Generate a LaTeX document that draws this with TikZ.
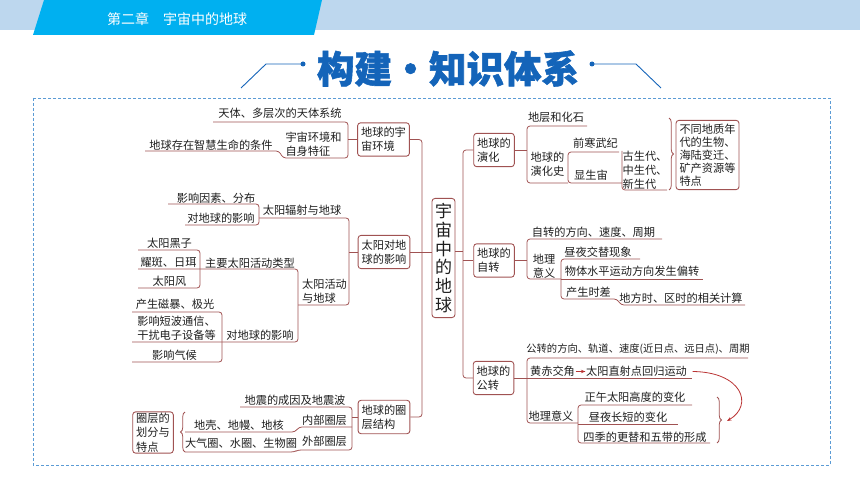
\documentclass[tikz,border=0pt]{standalone}
\usepackage{fontspec}
\setmainfont{Noto Sans CJK SC}
\usetikzlibrary{decorations.pathreplacing,arrows.meta}

\definecolor{linkc}{RGB}{160,82,82}
\definecolor{bandc}{RGB}{189,215,238}
\definecolor{tabc}{RGB}{0,176,240}
\definecolor{titlec}{RGB}{20,100,185}
\definecolor{framec}{RGB}{91,155,213}
\definecolor{arrowc}{RGB}{185,50,50}
\definecolor{textc}{RGB}{30,30,30}

\tikzstyle{box}=[draw=linkc, line width=0.9pt, rounded corners=3pt, inner xsep=3.5pt, inner ysep=4.5pt, align=left, font=\fontsize{11.2}{14}\selectfont, text=textc]
\tikzstyle{leaf}=[inner sep=0.5pt, align=left, font=\fontsize{11.2}{14}\selectfont, text=textc]
\tikzstyle{link}=[draw=linkc, line width=0.8pt, rounded corners=3pt]
\tikzstyle{curly}=[draw=linkc, line width=0.8pt, decorate, decoration={brace, amplitude=4.5pt}]
\tikzstyle{arr}=[draw=arrowc, line width=0.8pt, -{Stealth[length=4.5pt,width=3.5pt]}]

\begin{document}
\begin{tikzpicture}[x=1pt, y=-1pt]
\useasboundingbox (0,0) rectangle (860,484);
% header
\fill[bandc] (0,0) rectangle (860,30);
\fill[tabc] (33,35) -- (44,0) -- (322,0) -- (314,35) -- cycle;
\node[text=white, font=\fontsize{14}{16}\selectfont] (chap) at (177,19.5) {第二章\quad 宇宙中的地球};
% title
\node[text=titlec, font=\fontsize{37.5}{40}\selectfont\bfseries\addfontfeatures{FakeBold=1.5}] (title) at (448,68.5) {构建\makebox[37pt]{·}知识体系};
\draw[titlec, line width=0.9pt] (241,88) -- (266,64) -- (301,64);
\draw[titlec, line width=0.9pt] (592,64) -- (636,64) -- (661,88);
\fill[titlec] (303,64) circle (2.5) (592,64) circle (2.5);
\draw[framec, line width=0.8pt, dash pattern=on 3pt off 2pt] (33,98) rectangle (830,465);

% boxes
\node[box, align=center, font=\fontsize{17}{18.7}\selectfont, inner xsep=3pt, inner ysep=5pt] (core) at (443.5,258) {宇\\宙\\中\\的\\地\\球};
\foreach \pos/\name/\txt in {{(383.5,139.5)/uni/地球的宇\\宙环境}, {(384,252)/sun/太阳对地\\球的影响}, {(384,417)/lyr/地球的圈\\层结构},
  {(494,150)/evo/地球的\\演化}, {(494,260.5)/rot/地球的\\自转}, {(493.5,378)/rev/地球的\\公转}}
  \node[box] (\name) at \pos {\txt};
\node[box, inner ysep=1pt, font=\fontsize{11.2}{14.5}\selectfont] (sph) at (153,432.5) {圈层的\\划分与\\特点};
\node[box, inner ysep=3.5pt, font=\fontsize{11.2}{13}\selectfont] (geo) at (707.5,155) {不同地质年\\代的生物、\\海陆变迁、\\矿产资源等\\特点};

% left texts
\foreach \pos/\name/\txt in {{(280,113)/l1/天体、多层次的天体系统}, {(313.5,144.5)/l2/宇宙环境和\\自身特征}, {(211,145)/l3/地球存在智慧生命的条件},
  {(302,210)/l4/太阳辐射与地球}, {(216,198)/l5/影响因素、分布}, {(221,218)/l6/对地球的影响},
  {(324.5,291)/l7/太阳活动\\与地球}, {(250,263)/l8/主要太阳活动类型}, {(260,335)/l9/对地球的影响},
  {(169.5,243.5)/l10/太阳黑子}, {(168.5,262.5)/l11/耀斑、日珥}, {(169.5,281.5)/l12/太阳风},
  {(175,304.5)/l13/产生磁暴、极光}, {(176.5,328)/l14/影响短波通信、\\干扰电子设备等}, {(174.5,355)/l15/影响气候},
  {(295,400.5)/l16/地震的成因及地震波}, {(324.5,420)/l17/内部圈层}, {(324.5,441.5)/l18/外部圈层},
  {(239,425)/l19/地壳、地幔、地核}, {(241,443)/l20/大气圈、水圈、生物圈}}
  \node[leaf] (\name) at \pos {\txt};
% right texts
\foreach \pos/\name/\txt in {{(556,117.5)/r1/地层和化石}, {(547.5,164.5)/r2/地球的\\演化史}, {(595.5,143)/r3/前寒武纪},
  {(591,175)/r4/显生宙}, {(645,170)/r5/古生代、\\中生代、\\新生代},
  {(593.5,232)/r6/自转的方向、速度、周期}, {(544,266)/r7/地理\\意义}, {(598,252.5)/r8/昼夜交替现象},
  {(632,271)/r9/物体水平运动方向发生偏转}, {(588.5,292.5)/r10/产生时差}, {(681,298)/r11/地方时、区时的相关计算},
  {(552.5,371.5)/r13/黄赤交角}, {(636.5,371.5)/r14/太阳直射点回归运动}, {(551,416)/r15/地理意义},
  {(635,397)/r16/正午太阳高度的变化}, {(628,417)/r17/昼夜长短的变化}, {(645,437.5)/r18/四季的更替和五带的形成}}
  \node[leaf] (\name) at \pos {\txt};
\node[leaf, font=\fontsize{10.3}{12}\selectfont] (r12) at (638,349) {公转的方向、轨道、速度(近日点、远日点)、周期};

% trunks
\path[link] (uni.east) -- (422,139.5) -- (422,417) -- (lyr.east);
\path[link] ([yshift=6pt]core.west) -- (sun.east);
\path[link] (evo.west) -- (463,150) -- (463,378) -- (rev.west);
\path[link] ([yshift=7pt]core.east) -- (463,251);
\path[link] (rot.west) -- (463,260.5);

% left branches
\path[link] (uni.west) -- (348,139.5);
\path[link] (213,122) -- (348,122) -- (348,158) -- (283,158) -- (279,151) -- (145,151);
\path[link] (sun.west) -- (349,252);
\path[link] (259,218) -- (349,218) -- (349,305) -- (298,305);
\path[link] (168,204) -- (259,204) -- (259,225) -- (185,225);
\path[link] (138,250) -- (200,250) -- (200,288) -- (138,288);
\path[link] (138,269) -- (298,269) -- (298,342) -- (132,342);
\path[link] (132,312) -- (222,312) -- (222,362) -- (132,362);
\path[link] (lyr.west) -- (352,417);
\path[link] (240,407) -- (352,407) -- (352,450) -- (298,450) -- (294,452) -- (185,452);
\path[link] (352,427) -- (299,427) -- (295,432) -- (185,432);
\draw[curly] (185,452) -- (185,412);

% right branches
\path[link] (evo.east) -- (527,150);
\path[link] (587,126) -- (527,126) -- (527,183) -- (568,183);
\path[link] (619,152) -- (568,152) -- (568,183) -- (622,183);
\path[link] (622,151) -- (622,190) -- (667,190);
\draw[curly] (669,118) -- (669,190);
\path[link] (rot.east) -- (527,260.5);
\path[link] (662,239) -- (527,239) -- (527,279) -- (561,279);
\path[link] (640,259) -- (561,259) -- (561,299) -- (617,299) -- (621,305) -- (745,305);
\path[link] (561,279) -- (703,279);
\path[link] (rev.east) -- (527,378);
\path[link] (748,358) -- (527,358) -- (527,423) -- (578,423);
\path[link] (527,378) -- (692,378);
\path[link] (692,405) -- (578,405) -- (578,443) -- (710,443);
\path[link] (578,424) -- (678,424);
\draw[curly] (717,397) -- (717,443);
\coordinate (hit) at (727,421);
\draw[arr] (r13.east) -- (r14.west);
\draw[arr] ([xshift=5pt]r14.east) .. controls (742,372) and (754,405) .. (hit);
\end{tikzpicture}
\end{document}
